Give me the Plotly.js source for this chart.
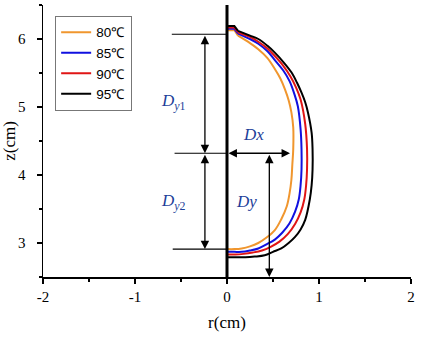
<!DOCTYPE html>
<html>
<head>
<meta charset="utf-8">
<script src="https://cdn.plot.ly/plotly-3.0.1.min.js"></script>
<style>
  body { margin: 0; background: #fff; }
  #chart { width: 428px; height: 341px; }
</style>
</head>
<body>
<div id="chart"></div>
<script>
// droplet profiles, r (cm) vs z (cm)
// first 3 points = small flat cap on the axis, rest = the profile
const seriesNames = ["80℃", "85℃", "90℃", "95℃"];
const seriesColors = ["#f0962e", "#1010e0", "#e01515", "#000000"];

const r80 = [0, 0.08, 0.12, 0.25, 0.34, 0.44, 0.52, 0.58, 0.63, 0.67, 0.70, 0.72, 0.72, 0.71, 0.70, 0.68, 0.65, 0.59, 0.52, 0.43, 0.34, 0.25, 0.16, 0.08, 0];
const z80 = [6.13, 6.13, 6.05, 5.94, 5.85, 5.72, 5.56, 5.42, 5.26, 5.10, 4.92, 4.70, 4.38, 4.15, 3.93, 3.73, 3.54, 3.35, 3.19, 3.08, 3.00, 2.95, 2.92, 2.91, 2.91];

const r85 = [0, 0.08, 0.12, 0.25, 0.34, 0.44, 0.52, 0.61, 0.68, 0.73, 0.77, 0.80, 0.81, 0.81, 0.80, 0.78, 0.74, 0.68, 0.60, 0.52, 0.43, 0.34, 0.25, 0.16, 0.08, 0];
const z85 = [6.15, 6.15, 6.08, 6.00, 5.93, 5.82, 5.69, 5.54, 5.38, 5.20, 5.01, 4.67, 4.38, 4.08, 3.85, 3.64, 3.46, 3.29, 3.15, 3.05, 2.98, 2.92, 2.89, 2.87, 2.87, 2.87];

const r90 = [0, 0.08, 0.12, 0.25, 0.34, 0.44, 0.52, 0.61, 0.69, 0.75, 0.80, 0.85, 0.87, 0.87, 0.86, 0.84, 0.80, 0.74, 0.66, 0.57, 0.47, 0.38, 0.28, 0.18, 0.09, 0];
const z90 = [6.17, 6.17, 6.10, 6.03, 5.96, 5.86, 5.75, 5.61, 5.45, 5.29, 5.11, 4.75, 4.38, 4.08, 3.85, 3.64, 3.45, 3.28, 3.13, 3.02, 2.94, 2.89, 2.86, 2.84, 2.83, 2.83];

const r95 = [0, 0.08, 0.12, 0.25, 0.34, 0.44, 0.52, 0.62, 0.70, 0.76, 0.81, 0.85, 0.88, 0.92, 0.93, 0.93, 0.92, 0.90, 0.85, 0.80, 0.74, 0.67, 0.59, 0.50, 0.41, 0.30, 0.20, 0.10, 0];
const z95 = [6.19, 6.19, 6.12, 6.05, 6.00, 5.90, 5.80, 5.65, 5.51, 5.36, 5.21, 5.07, 4.92, 4.62, 4.38, 4.08, 3.85, 3.64, 3.34, 3.20, 3.09, 3.00, 2.92, 2.87, 2.82, 2.80, 2.79, 2.79, 2.79];

const rSeries = [r80, r85, r90, r95];
const zSeries = [z80, z85, z90, z95];

// axis of symmetry
const axisR = [0, 0];
const axisZ = [2.5, 6.5];

// horizontal guide lines (top, middle, bottom)
const guideZ = [6.07, 4.32, 2.91];
const guideStart = [-0.6, -0.57, -0.59];

// dimension arrows: tip (r, z) and tail (r, z)
const arrowTipR = [-0.24, -0.24, 0.685, 0.46];
const arrowTipZ = [4.32, 2.91, 4.32, 2.5];
const arrowTailR = [-0.24, -0.24, 0, 0.46];
const arrowTailZ = [6.07, 4.32, 4.32, 4.32];

// dimension labels
const labelText = ["<i>D</i><sub><i>y</i>1</sub>", "<i>D</i><sub><i>y</i>2</sub>", "<i>Dx</i>", "<i>Dy</i>"];
const labelR = [-0.58, -0.58, 0.29, 0.21];
const labelZ = [5.07, 3.61, 4.60, 3.61];

// tick labels (plain hyphen like the original)
const xTicks = [-2, -1, 0, 1, 2];
const xTickText = ["-2", "-1", "0", "1", "2"];
const yTicks = [3, 4, 5, 6];
const yTickText = ["3", "4", "5", "6"];

const serif = "Liberation Serif, Times New Roman, serif";

const traces = [];
rSeries.forEach((r, i) => {
  const z = zSeries[i];
  // profile, smoothed
  traces.push({
    x: r.slice(2),
    y: z.slice(2),
    mode: "lines",
    type: "scatter",
    name: seriesNames[i],
    legendgroup: seriesNames[i],
    line: { color: seriesColors[i], width: 2, shape: "spline", smoothing: 1 },
  });
  // flat cap with the little step
  traces.push({
    x: r.slice(0, 3),
    y: z.slice(0, 3),
    mode: "lines",
    type: "scatter",
    legendgroup: seriesNames[i],
    showlegend: false,
    line: { color: seriesColors[i], width: 2 },
  });
});

guideZ.forEach((z, i) => {
  traces.push({
    x: [guideStart[i], 0],
    y: [z, z],
    mode: "lines",
    showlegend: false,
    line: { color: "#000", width: 1.2 },
  });
});

traces.push({
  x: axisR,
  y: axisZ,
  mode: "lines",
  showlegend: false,
  line: { color: "#000", width: 3 },
});

const annotations = [];
arrowTipR.forEach((r, i) => {
  annotations.push({
    x: r, y: arrowTipZ[i],
    ax: arrowTailR[i], ay: arrowTailZ[i],
    xref: "x", yref: "y", axref: "x", ayref: "y",
    text: "",
    showarrow: true,
    arrowhead: 2,
    startarrowhead: 2,
    arrowside: "end+start",
    arrowsize: 1.3,
    startarrowsize: 1.3,
    arrowwidth: 1.3,
    arrowcolor: "#000",
    standoff: 0,
    startstandoff: 0,
  });
});
labelText.forEach((t, i) => {
  annotations.push({
    x: labelR[i], y: labelZ[i],
    xref: "x", yref: "y",
    text: t,
    showarrow: false,
    font: { family: serif, size: 17, color: "#1d3f9a" },
  });
});

const axisCommon = {
  ticks: "outside",
  ticklen: 5,
  tickwidth: 1.5,
  tickcolor: "#000",
  showline: true,
  linecolor: "#000",
  linewidth: 1.5,
  showgrid: false,
  zeroline: false,
  minor: { dtick: 0.5, ticks: "outside", ticklen: 3, tickwidth: 1.5, tickcolor: "#000" },
  tickfont: { family: serif, size: 15, color: "#000" },
};

const layout = {
  width: 428,
  height: 341,
  margin: { l: 43, r: 17, t: 5, b: 64 },
  paper_bgcolor: "#fff",
  plot_bgcolor: "#fff",
  showlegend: true,
  legend: {
    x: 0.033, y: 0.96,
    xanchor: "left", yanchor: "top",
    bgcolor: "#fff",
    bordercolor: "#777",
    borderwidth: 1,
    font: { family: "Liberation Sans, Arial, sans-serif", size: 13.5, color: "#000" },
    tracegroupgap: 0,
  },
  xaxis: Object.assign({}, axisCommon, {
    range: [-2, 2],
    tickvals: xTicks,
    ticktext: xTickText,
    title: { text: "r(cm)", font: { family: serif, size: 17, color: "#000" }, standoff: 12 },
  }),
  yaxis: Object.assign({}, axisCommon, {
    range: [2.5, 6.5],
    tickvals: yTicks,
    ticktext: yTickText,
    ticklabelstandoff: 8,
    title: { text: "z(cm)", font: { family: serif, size: 17, color: "#000" }, standoff: 2 },
  }),
  annotations: annotations,
};

Plotly.newPlot("chart", traces, layout, { displayModeBar: false, staticPlot: true });
</script>
</body>
</html>
